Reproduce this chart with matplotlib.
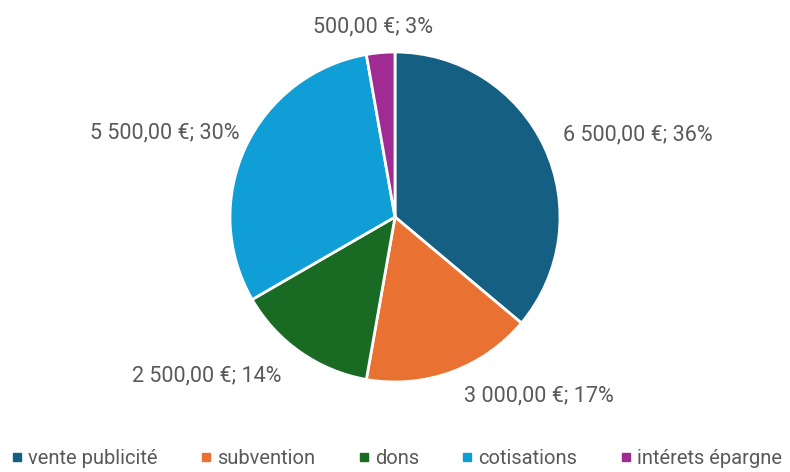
import matplotlib
matplotlib.use("Agg")
import matplotlib.pyplot as plt
from matplotlib.lines import Line2D
import numpy as np

categories = ["vente publicité", "subvention", "dons", "cotisations", "intérets épargne"]
values = [6500, 3000, 2500, 5500, 500]
label_texts = ["6 500,00 €; 36%", "3 000,00 €; 17%", "2 500,00 €; 14%", "5 500,00 €; 30%", "500,00 €; 3%"]
colors = ["#156082", "#E97132", "#196B24", "#0F9ED5", "#A02B93"]

# label placement style (angle in degrees, distance in pixels)
label_angles = [18.6, -51.2, -139.8, 160.0, 96.6]
label_dist = [256, 230, 246, 245, 191]

plt.rcParams['font.family'] = ['Roboto', 'DejaVu Sans']
fig = plt.figure(figsize=(7.9, 4.72), dpi=100)
ax = fig.add_axes([0, 0, 1, 1])

cx, cy, r = 395, 472 - 217, 165
ax.pie(values, colors=colors, startangle=90, counterclock=False,
       center=(cx, cy), radius=r, frame=True,
       wedgeprops=dict(edgecolor='white', linewidth=2))
ax.set_xlim(0, 790)
ax.set_ylim(0, 472)
ax.set_aspect('equal')
ax.axis('off')

for t, a, d in zip(label_texts, label_angles, label_dist):
    x = cx + d * np.cos(np.radians(a))
    y = cy + d * np.sin(np.radians(a))
    ax.text(x, y, t, ha='center', va='center', fontsize=15.5, color='#595959')

handles = [Line2D([0], [0], marker='s', linestyle='none', markersize=6,
                  markerfacecolor=c, markeredgecolor=c) for c in colors]
fig.legend(handles, categories, loc='lower center', ncol=5, frameon=False,
           bbox_to_anchor=(0.5, -0.03), fontsize=14.5, labelcolor='#595959',
           handletextpad=0.1, columnspacing=1.95, handlelength=0.9)

fig.savefig("out.png", dpi=100, facecolor='white')
